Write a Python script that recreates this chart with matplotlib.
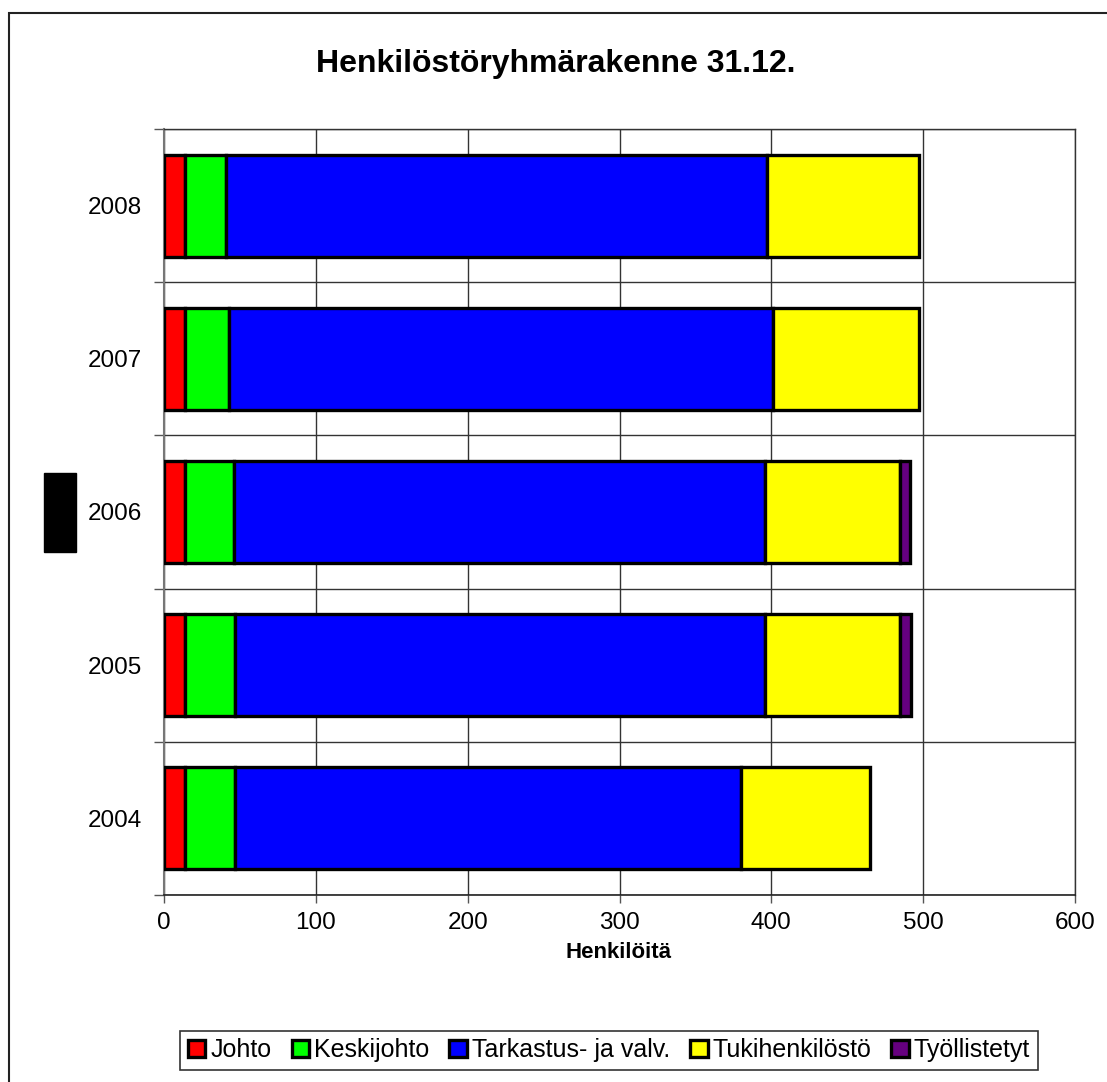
import matplotlib
matplotlib.use("Agg")
import matplotlib.pyplot as plt
from matplotlib.patches import Rectangle
import numpy as np

plt.rcParams['font.family'] = ['Liberation Sans', 'DejaVu Sans']

years = ["2004", "2005", "2006", "2007", "2008"]
series_names = ["Johto", "Keskijohto", "Tarkastus- ja valv.", "Tukihenkilöstö", "Työllistetyt"]
johto = [14, 14, 14, 14, 14]
keskijohto = [33, 33, 32, 29, 27]
tarkastus = [333, 349, 350, 358, 356]
tuki = [85, 89, 89, 96, 100]
tyollistetyt = [0, 7, 6, 0, 0]
colors = ["#FF0000", "#00FF00", "#0000FF", "#FFFF00", "#660080"]
xticks = [0, 100, 200, 300, 400, 500, 600]

W, H = 1107, 1082
fig = plt.figure(figsize=(W / 100, H / 100), dpi=100)

def fx(px):
    return px / W

def fy(py):
    return 1 - py / H

ax = fig.add_axes([fx(164), fy(895), fx(1075) - fx(164), fy(129) - fy(895)])

data = [johto, keskijohto, tarkastus, tuki, tyollistetyt]
y = np.arange(len(years))
left = np.zeros(len(years))
handles = []
for name, vals, c in zip(series_names, data, colors):
    vals = np.array(vals, dtype=float)
    mask = vals > 0
    b = ax.barh(y[mask], vals[mask], left=left[mask], height=0.665, color=c,
                edgecolor="black", linewidth=2.4, label=name, zorder=3)
    handles.append(b)
    left = left + vals

ax.set_xlim(0, 600)
ax.set_ylim(-0.5, len(years) - 0.5)
ax.set_xticks(xticks)
ax.set_xticklabels([str(t) for t in xticks], fontsize=17.5)
ax.set_yticks(y)
ax.set_yticklabels(years, fontsize=17.5)
ax.tick_params(axis='y', length=0, pad=16)
ax.set_yticks(np.arange(-0.5, len(years), 1.0), minor=True)
ax.tick_params(axis='y', which='minor', length=7, width=1, color='#555555', direction='out')
ax.tick_params(axis='x', length=6, width=1, color='#555555', direction='out', pad=6)

ax.grid(True, axis='x', color='#333333', linewidth=1, zorder=0)
ax.grid(True, axis='y', which='minor', color='#333333', linewidth=1, zorder=0)
for s in ['top', 'right']:
    ax.spines[s].set_color('#333333')
    ax.spines[s].set_linewidth(1)
ax.spines['left'].set_color('#777777')
ax.spines['left'].set_linewidth(1.5)
ax.spines['bottom'].set_color('#222222')
ax.spines['bottom'].set_linewidth(1.2)

fig.text(fx(619), fy(952), "Henkilöitä", ha='center', va='center',
         fontsize=16, fontweight='bold')

fig.text(fx(556), fy(64), "Henkilöstöryhmärakenne 31.12.", ha='center', va='center',
         fontsize=23, fontweight='bold')

# figure border
fig.patches.append(Rectangle((fx(9), fy(1100)), 1.2, fy(13) - fy(1100), transform=fig.transFigure,
                             fill=False, edgecolor='#222222', linewidth=1.5))
# black block on left
fig.patches.append(Rectangle((fx(44), fy(552)), fx(76) - fx(44), fy(473) - fy(552),
                             transform=fig.transFigure, facecolor='black', edgecolor='black'))

leg = fig.legend(handles=handles, labels=series_names, loc='center',
                 bbox_to_anchor=(fx(609), fy(1050)), ncol=5, fontsize=18,
                 frameon=True, fancybox=False, handlelength=0.7, handleheight=0.7,
                 handletextpad=0.2, columnspacing=0.8, borderpad=0.3)
leg.get_frame().set_edgecolor('black')
leg.get_frame().set_linewidth(1.2)
for p in leg.get_patches():
    p.set_linewidth(2.4)

fig.savefig("out.png", dpi=100, facecolor='white')
